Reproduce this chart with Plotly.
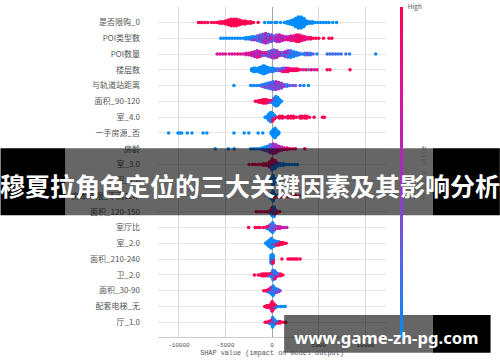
import plotly.graph_objects as go

labels = ["是否限购_0","POI类型数","POI数量","楼层数","与轨道站距离","面积_90-120","室_4.0","一手房源_否","房龄","室_3.0",
          "卫_1.0","房本年限_不满二年","面积_120-150","室厅比","室_2.0","面积_210-240","卫_2.0","面积_30-90","配套电梯_无","厅_1.0"]
x_ticks = [-10000,-5000,0,5000,10000]
x_ticktext = ["-10000","-5000","0","5000","10000"]
banner_title = "穆夏拉角色定位的三大关键因素及其影响分析"
banner_url = "www.game-zh-pg.com"

x0=[-7900,-7700,-7500,-7200,-6900,-6500,-6200,-5900,-5600,-5300,-5000,-4700,-4400,-4100,-3800,-3500,-3200,-2900,-2600,-2300,-2000,-1500,-800,-400,-100,300,500,900,1300,1600,1900,2200,2500,2800,3100,3400,3700,4000,4300,4600,4900,5200,5500,5800,6100,6500,6900]
n0=[1,1,1,1,1,1,1,1,2,2,3,4,5,5,5,4,3,3,2,2,1,1,1,1,1,1,1,1,1,2,3,4,6,8,8,6,3,2,2,1,1,1,1,1,1,1,1]
f0=[1]*22+[0]*25
x1=[-5500,-5200,-4900,-4600,-4300,-4000,-3700,-3400,-3100,-2800,-2500,-2200,-1900,-1600,-1300,-1000,-700,-400,-100,200,500,800,1100,1400,1700,2000,2300,2600,2900,3200,3500,3800,4100,4400,4700,5000,5500,6100,6400]
n1=[1,1,1,1,1,1,1,1,1,2,2,3,3,4,5,6,7,6,5,4,5,5,4,3,3,4,4,5,5,4,3,2,2,1,1,1,1,1,1]
f1=[0,0,0,0,0,0,0,0,0,0,0,0.1,0,0.3,0.5,0.1,0.6,0.4,0.7,0.3,0.8,0.5,0.6,0.9,0.5,0.7,0.9,0.8,1,0.9,0.7,1,0.8,1,1,1,1,1,1]
x2=[-5900,-5600,-5300,-5000,-4600,-4300,-4000,-3700,-3400,-3100,-2800,-2500,-2200,-1900,-1600,-1300,-1000,-700,-400,-100,200,500,800,1100,1400,1700,2000,2300,2600,2900,3200,3500,3800,4100,4400,4800,5900,6200,6500,6800,7100,7400,7900,8300,11100]
n2=[1,1,1,1,1,1,1,1,1,1,2,2,3,4,5,4,3,3,4,5,6,5,3,3,4,5,5,4,3,2,1,2,2,2,1,1,1,1,1,1,1,1,1,1,1]
f2=[0.7,0.8,0.7,0.8,0.7,0.8,0.7,0.9,0.8,0.7,0.8,0.6,0.7,0.5,0.6,0.8,0.4,0.6,0.3,0.4,0.5,0.2,0.6,0.7,0.5,0.2,0.1,0,0.1,0.3,0.1,0.4,0.1,0.3,0.2,0.1,0.2,0.1,0.3,0.1,0.2,0.1,0.2,0.1,0]
x3=[-2200,-2000,-1800,-1500,-1300,-1100,-900,-700,-500,-300,-100,100,300,500,700,900,1100,1300,1500,1700,1900,2100,2300,2500,2700,3000,3300,3600,3900,4200,4500,4800,5900,6200,8350]
n3=[2,3,3,3,4,5,6,5,4,3,3,3,2,2,2,2,3,3,3,3,2,2,2,2,2,1,1,1,1,1,1,1,1,1,1]
f3=[0,0,0,0,0,0,0,0,0,0,0.1,0,0.2,0.1,0.3,0.2,0.5,0.8,0.7,0.9,0.8,1,0.9,1,0.8,1,0.6,1,0.3,1,0.6,0.9,1,1,1]
x4=[-4100,-2300,-2000,-1700,-1400,-1100,-800,-500,-200,100,400,700,1000,1300,1600,1900,2200,2500,3000,3400,3900]
n4=[1,1,1,1,1,2,3,4,5,6,6,5,4,2,2,1,1,1,1,1,1]
f4=[0,0,0.1,0,0.1,0,0.3,0.1,0.5,0.2,0.6,0.3,0.4,0.1,0.5,0.2,0.4,0.3,0.2,0,0]
x5=[-1800,-1600,-1400,-1200,-1000,-800,-600,-400,-200,0,200,400,600,800,1000]
n5=[1,1,2,2,3,3,3,2,2,2,5,7,6,3,1]
f5=[1,1,1,1,1,1,1,1,0.9,0.3,0,0,0,0,0]
x6=[-750,-550,-350,-150,50,250,500,800,1100,1400,1700,2000,2300,2600,3000,3200,3500,3700,4000,4500,5400,5600]
n6=[1,2,5,7,6,3,1,2,2,1,2,2,2,1,2,2,2,2,1,1,1,1]
f6=[0,0,0,0,0,0.3,1,1,1,1,1,1,1,1,1,1,1,1,1,1,1,1]
x7=[-11100,-10100,-9900,-9700,-9100,-8600,-7400,-7000,-4100,-3000,-2500,-1500,-1000,-100,100,300,500,700]
n7=[1,1,1,1,1,1,1,1,1,1,1,1,1,2,5,7,4,2]
f7=[0]*18
x8=[-6100,-4700,-4060,-2300,-2000,-1700,-1400,-1100,-800,-500,-200,100,400,700,1000,1300,1600,1900,2200,2500,3500]
n8=[1,1,1,1,1,1,1,2,3,4,6,7,6,4,3,2,2,1,1,1,1]
f8=[0,0,0,0,0,0.1,0,0.1,0.2,0.1,0.4,0.6,0.5,0.7,0.8,0.9,0.8,1,0.8,1,1]
x9=[-2460,-2100,-1800,-1500,-1200,-900,-600,-300,0,300,600,900,1200,1500,1800,2100,2400,2700]
n9=[1,1,1,1,1,2,2,4,8,6,3,2,2,1,1,1,1,1]
f9=[1,1,1,1,1,1,1,1,0.6,0,0,0,0,0,0,0,0,0]
x10=[-300,-100,100,300,500]
n10=[1,3,7,3,1]
f10=[0,0,0,0,0]
x11=[-300,-100,100,300,600,900,1300,1700,2100,2500,2900]
n11=[1,4,7,3,2,2,2,2,2,2,1]
f11=[0,0,0,0.2,1,1,1,1,1,1,1]
x12=[-1700,-1400,-1100,-800,-500,-250,0,200,400,600,800]
n12=[1,1,1,1,1,2,6,7,3,1,1]
f12=[1,1,1,1,1,1,0.2,0,0,0.9,0.9]
x13=[-2530,-1820,-1570,-1285,-930,-570,-350,-150,50,250,450,650,850,1050,1300,1570]
n13=[1,1,1,1,1,2,3,5,7,4,2,2,2,1,1,1]
f13=[1,1,1,1,1,0.6,0.3,0.1,0,0.3,0.7,0.6,0.7,0.6,0.7,0.6]
x14=[-700,-500,-300,-100,100,300,500,700,900,1100,1300,1500]
n14=[1,3,5,7,5,4,3,3,2,2,1,1]
f14=[0,0,0,0,0,0.1,1,1,1,1,1,1]
x15=[-100,0,100,1050,1700,1900,2100,2300,2500,2700,3000]
n15=[6,7,6,1,1,1,1,1,1,1,1]
f15=[0,0,0,1,1,1,1,1,1,1,1]
x16=[-1900,-1500,-1300,-1100,-900,-700,-500,-300,-100,100,300,500,700,900,1150]
n16=[1,1,1,2,2,2,2,2,3,7,6,3,2,2,1]
f16=[1,1,1,1,1,1,1,0.8,0.2,0,0,0.3,1,0.6,1]
x17=[-900,-700,-500,-300,-100,100,300,500,700,850]
n17=[1,1,2,3,5,7,4,3,2,1]
f17=[1,1,1,0.7,0.2,0,0,0.3,0.5,0.4]
x18=[-800,-600,-400,-200,0,200,400,600,900,1200,1400]
n18=[1,2,2,3,7,4,2,1,1,1,1]
f18=[1,1,1,1,0.9,1,0.4,0,0,0,0]
x19=[-750,-550,-350,-150,50,250,450,650,850,1150,1450]
n19=[1,1,2,3,7,4,2,2,2,1,1]
f19=[1,1,1,0.7,0,0,0,1,1,1,1]

rows = [(x0,n0,f0),(x1,n1,f1),(x2,n2,f2),(x3,n3,f3),(x4,n4,f4),(x5,n5,f5),(x6,n6,f6),(x7,n7,f7),(x8,n8,f8),(x9,n9,f9),
        (x10,n10,f10),(x11,n11,f11),(x12,n12,f12),(x13,n13,f13),(x14,n14,f14),(x15,n15,f15),(x16,n16,f16),(x17,n17,f17),(x18,n18,f18),(x19,n19,f19)]

W, H = 500, 362
L, R, T, B = 157.7, 386.0, 6.5, 337.0
PW, PH = R - L, B - T
def px(v): return (v - L) / PW
def py(v): return (B - v) / PH

DY = 0.05
xs, ys, cs = [], [], []
for r, (xv, nv, fv) in enumerate(rows):
    m = len(xv)
    for i in range(m):
        for k in range(nv[i]):
            for s in ([1, -1] if k else [1]):
                j = max(0, min(i + (k % 3) * s, m - 1))
                xs.append(xv[i])
                ys.append(r + s * k * DY)
                cs.append(fv[j])

fig = go.Figure(go.Scatter(
    x=xs, y=ys, mode="markers", hoverinfo="skip", showlegend=False,
    marker=dict(size=3.5, color=cs, coloraxis="coloraxis", line=dict(width=0)),
))

AX = "#555555"
fig.update_layout(
    width=W, height=H, autosize=False, paper_bgcolor="white", plot_bgcolor="white",
    margin=dict(l=L, r=W-R, t=T, b=H-B, pad=0),
    font=dict(family="Noto Sans CJK SC", color=AX, size=8),
    xaxis=dict(range=[(L-272)/46.7*5000, (R-272)/46.7*5000], tickvals=x_ticks, ticktext=x_ticktext,
               showgrid=True, gridcolor="#d9d9d9", gridwidth=1, zeroline=True, zerolinecolor="#a6a6a6", zerolinewidth=1,
               showline=True, linecolor="#cccccc", linewidth=1, ticks="", ticklabelstandoff=2,
               tickfont=dict(family="Liberation Mono, Noto Sans CJK SC", size=6, color=AX),
               title=dict(text="SHAP value (impact on model output)", standoff=2,
                          font=dict(family="Liberation Mono, Noto Sans CJK SC", size=6.85, color=AX))),
    yaxis=dict(range=[(B-22)/15.8, (T-22)/15.8], tickmode="array", tickvals=list(range(len(labels))), ticktext=labels,
               showgrid=True, gridcolor="#e6e6e6", gridwidth=1.2, zeroline=False, showline=False, ticks="",
               ticklabelstandoff=17, tickfont=dict(family="Noto Sans CJK SC", size=8, color=AX)),
    coloraxis=dict(cmin=0, cmax=1,
        colorscale=[[0,"#008bfb"],[0.25,"#5a62e6"],[0.5,"#a82bc4"],[0.75,"#e0109a"],[1,"#ff0051"]],
        colorbar=dict(thickness=3, thicknessmode="pixels", len=B-T, lenmode="pixels", y=0.5, yanchor="middle", yref="paper",
                      x=px(399.8), xanchor="left", xref="paper", xpad=0, ypad=0, outlinewidth=0,
                      tickmode="array", tickvals=[0,1], ticktext=["Low","High"], ticks="outside", ticklen=4, tickcolor="rgba(0,0,0,0)",
                      tickfont=dict(family="Noto Sans CJK SC", size=6.5, color=AX))),
    shapes=[
        dict(type="rect", xref="paper", yref="paper", x0=px(0), x1=px(65), y0=py(148), y1=py(215), fillcolor="black", line_width=0, layer="above"),
        dict(type="rect", xref="paper", yref="paper", x0=px(433), x1=px(500), y0=py(148), y1=py(215), fillcolor="black", line_width=0, layer="above"),
        dict(type="rect", xref="paper", yref="paper", x0=px(65), x1=px(433), y0=py(148), y1=py(215), fillcolor="rgba(0,0,0,0.6)", line_width=0, layer="above"),
        dict(type="rect", xref="paper", yref="paper", x0=px(284), x1=px(433), y0=py(315), y1=py(352.7), fillcolor="rgba(0,0,0,0.6)", line_width=0, layer="above"),
        dict(type="rect", xref="paper", yref="paper", x0=px(433), x1=px(490.7), y0=py(315), y1=py(352.7), fillcolor="black", line_width=0, layer="above"),
    ],
    annotations=[
        dict(text="Feature value", xref="paper", yref="paper", x=px(424), y=py(172), showarrow=False, textangle=-90,
             xanchor="center", yanchor="middle", font=dict(family="Liberation Mono", size=6.85, color=AX)),
        dict(text=f"<b>{banner_title}</b>", xref="paper", yref="paper", x=px(250), y=py(185), showarrow=False,
             xanchor="center", yanchor="middle", font=dict(family="Noto Sans CJK SC", size=25, color="white")),
        dict(text=f"<b>{banner_url}</b>", xref="paper", yref="paper", x=px(386.5), y=py(337), showarrow=False,
             xanchor="center", yanchor="middle", font=dict(family="Noto Sans", size=16.7, color="white")),
    ],
)
fig.write_html("out.html", config=dict(displayModeBar=False), post_script="document.documentElement.style.overflow='hidden';document.body.style.margin='0';document.body.style.overflow='hidden';window.dispatchEvent(new Event('resize'));")
